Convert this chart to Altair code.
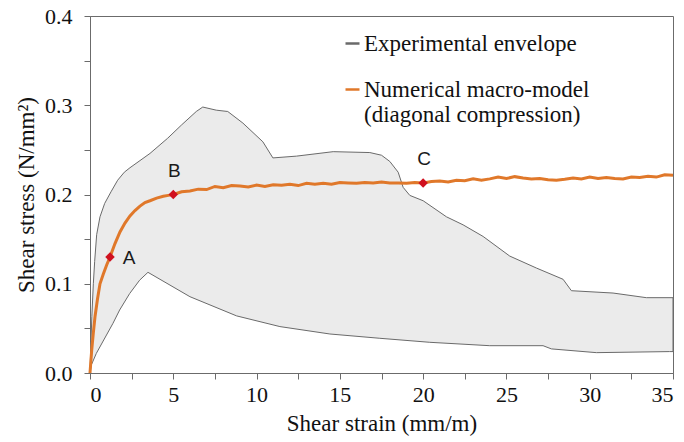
import altair as alt
import pandas as pd

# Experimental envelope: upper branch from the origin to the right edge
env_upper_x = [0.0, 0.05, 0.11, 0.2, 0.28, 0.4, 0.6, 0.88, 1.26, 1.66, 2.06, 2.4, 3.0, 3.6,
               4.66, 5.5, 6.38, 6.77, 7.58, 8.27, 9.18, 10.38, 10.98, 12.4, 14.6, 16.8,
               17.5, 18.0, 18.5, 18.8, 19.2, 20.0, 21.4, 22.4, 23.6, 25.2, 26.8, 28.4,
               28.9, 31.4, 33.4, 35.0]
env_upper_y = [0.0, 0.03, 0.063, 0.1, 0.125, 0.155, 0.175, 0.19, 0.203, 0.216, 0.225, 0.23,
               0.238, 0.246, 0.263, 0.278, 0.293, 0.298, 0.2945, 0.293, 0.28, 0.259, 0.241,
               0.243, 0.248, 0.247, 0.244, 0.237, 0.225, 0.208, 0.199, 0.193, 0.175, 0.166,
               0.153, 0.131, 0.1176, 0.105, 0.0922, 0.0896, 0.0844, 0.0844]
# Lower branch, from the right edge back to the origin
env_lower_x = [35.0, 34.8, 30.4, 27.7, 27.2, 24.0, 20.4, 17.4, 14.4, 11.4, 8.8, 6.0, 3.48,
               2.98, 2.38, 1.78, 1.38, 0.38, 0.08, 0.0]
env_lower_y = [0.024, 0.024, 0.0228, 0.027, 0.0306, 0.0306, 0.0344, 0.0389, 0.0437, 0.052,
               0.064, 0.0855, 0.1128, 0.104, 0.089, 0.0706, 0.0557, 0.022, 0.009, 0.0]

# Numerical macro-model curve
model_x = [0.0, 0.1, 0.2, 0.3, 0.45, 0.6, 0.8, 1.0, 1.2, 1.5, 1.8, 2.1, 2.4, 2.7, 3.0, 3.3,
           3.6, 4.0, 4.4, 4.7,
           5.0, 5.5, 6.0, 6.5, 7.0, 7.5, 8.0, 8.5, 9.0, 9.5, 10.0, 10.5, 11.0, 11.5, 12.0,
           12.5, 13.0, 13.5, 14.0, 14.5, 15.0, 15.5, 16.0, 16.5, 17.0, 17.5, 18.0, 18.5,
           19.0, 19.5, 20.0, 20.5, 21.0, 21.5, 22.0, 22.5, 23.0, 23.5, 24.0, 24.5, 25.0,
           25.5, 26.0, 26.5, 27.0, 27.5, 28.0, 28.5, 29.0, 29.5, 30.0, 30.5, 31.0, 31.5,
           32.0, 32.5, 33.0, 33.5, 34.0, 34.5, 35.0]
model_y = [0.0, 0.025, 0.045, 0.063, 0.083, 0.1, 0.111, 0.121, 0.130, 0.145, 0.158, 0.168,
           0.176, 0.182, 0.187, 0.191, 0.193, 0.196, 0.198, 0.199,
           0.200, 0.203, 0.204, 0.206, 0.2055, 0.209, 0.2075, 0.210, 0.2095, 0.2085, 0.2105,
           0.209, 0.211, 0.2105, 0.2115, 0.210, 0.2125, 0.2115, 0.2125, 0.2115, 0.2135,
           0.213, 0.2125, 0.2135, 0.213, 0.214, 0.213, 0.213, 0.2125, 0.2135, 0.213, 0.2145,
           0.215, 0.214, 0.216, 0.2155, 0.2175, 0.216, 0.2175, 0.2195, 0.218, 0.22, 0.2185,
           0.2175, 0.218, 0.2165, 0.216, 0.217, 0.2185, 0.2175, 0.2195, 0.218, 0.219, 0.218,
           0.2175, 0.2195, 0.219, 0.2205, 0.2195, 0.222, 0.2215]

# Marked states on the model curve
pt_names = ["A", "B", "C"]
pt_x = [1.2, 5.0, 20.0]
pt_y = [0.130, 0.200, 0.213]

ENV = "Experimental envelope"
NUM = "Numerical macro-model|(diagonal compression)"

env_x = env_upper_x + env_lower_x
env_y = env_upper_y + env_lower_y
env = pd.DataFrame({"x": env_x, "y": env_y, "order": list(range(len(env_x))), "series": ENV})
model = pd.DataFrame({"x": model_x, "y": model_y, "series": NUM})
pts = pd.DataFrame({"name": pt_names, "x": pt_x, "y": pt_y})

SERIF = "Liberation Serif"
AXIS_GRAY = "#6b6b6b"

x_enc = alt.X(
    "x:Q",
    scale=alt.Scale(domain=[0, 35], nice=False),
    axis=alt.Axis(
        values=[i * 2.5 for i in range(15)],
        labelExpr="datum.value % 5 == 0 ? format(datum.value, 'd') : ''",
        title="Shear strain (mm/m)",
    ),
)
y_enc = alt.Y(
    "y:Q",
    scale=alt.Scale(domain=[0, 0.4], nice=False),
    axis=alt.Axis(
        values=[round(i * 0.05, 2) for i in range(9)],
        labelExpr="round(datum.value * 100) % 10 == 0 ? format(datum.value, '.1f') : ''",
        title="Shear stress (N/mm²)",
    ),
)
color = alt.Color(
    "series:N",
    scale=alt.Scale(domain=[ENV, NUM], range=["#6a6a6a", "#E0782A"]),
    legend=alt.Legend(
        title=None,
        orient="none",
        legendX=251,
        legendY=16,
        labelExpr="split(datum.label, '|')",
        labelLimit=0,
        labelOffset=0,
        symbolType="stroke",
        symbolSize=196,
        symbolStrokeWidth=2.5,
        rowPadding=22,
        padding=0,
    ),
)

envelope = alt.Chart(env).mark_line(fill="#ebebeb", strokeWidth=1).encode(
    x=x_enc, y=y_enc, order="order:Q", color=color
)
curve = alt.Chart(model).mark_line(strokeWidth=3).encode(x=x_enc, y=y_enc, color=color)
markers = alt.Chart(pts).mark_point(
    shape="diamond", filled=True, size=90, color="#D0101E", opacity=1
).encode(x=x_enc, y=y_enc)

label_style = dict(font="Liberation Sans", fontSize=19, color="#1a1a1a")
label_a = alt.Chart(pts).transform_filter("datum.name == 'A'").mark_text(
    dx=19, dy=1, **label_style
).encode(x=x_enc, y=y_enc, text="name:N")
label_bc = alt.Chart(pts).transform_filter("datum.name != 'A'").mark_text(
    dx=1, dy=-24, **label_style
).encode(x=x_enc, y=y_enc, text="name:N")

chart = (
    alt.layer(envelope, curve, markers, label_a, label_bc)
    .properties(
        width=583,
        height=357,
        autosize=alt.AutoSizeParams(type="none"),
        padding={"left": 90, "top": 16, "right": 11, "bottom": 69},
    )
    .configure_view(stroke=AXIS_GRAY, strokeWidth=1)
    .configure_axis(
        grid=False,
        domainColor=AXIS_GRAY,
        tickColor=AXIS_GRAY,
        tickSize=6,
        labelFont=SERIF,
        labelFontSize=22,
        labelColor="#111111",
        titleFont=SERIF,
        titleFontSize=23,
        titleFontWeight="normal",
        titleColor="#111111",
    )
    .configure_axisY(labelPadding=12, titlePadding=6)
    .configure_axisX(labelPadding=5, titlePadding=7)
    .configure_legend(labelFont=SERIF, labelFontSize=23, labelColor="#111111")
)

chart.save("out.html", embed_options={"renderer": "svg", "actions": False})
